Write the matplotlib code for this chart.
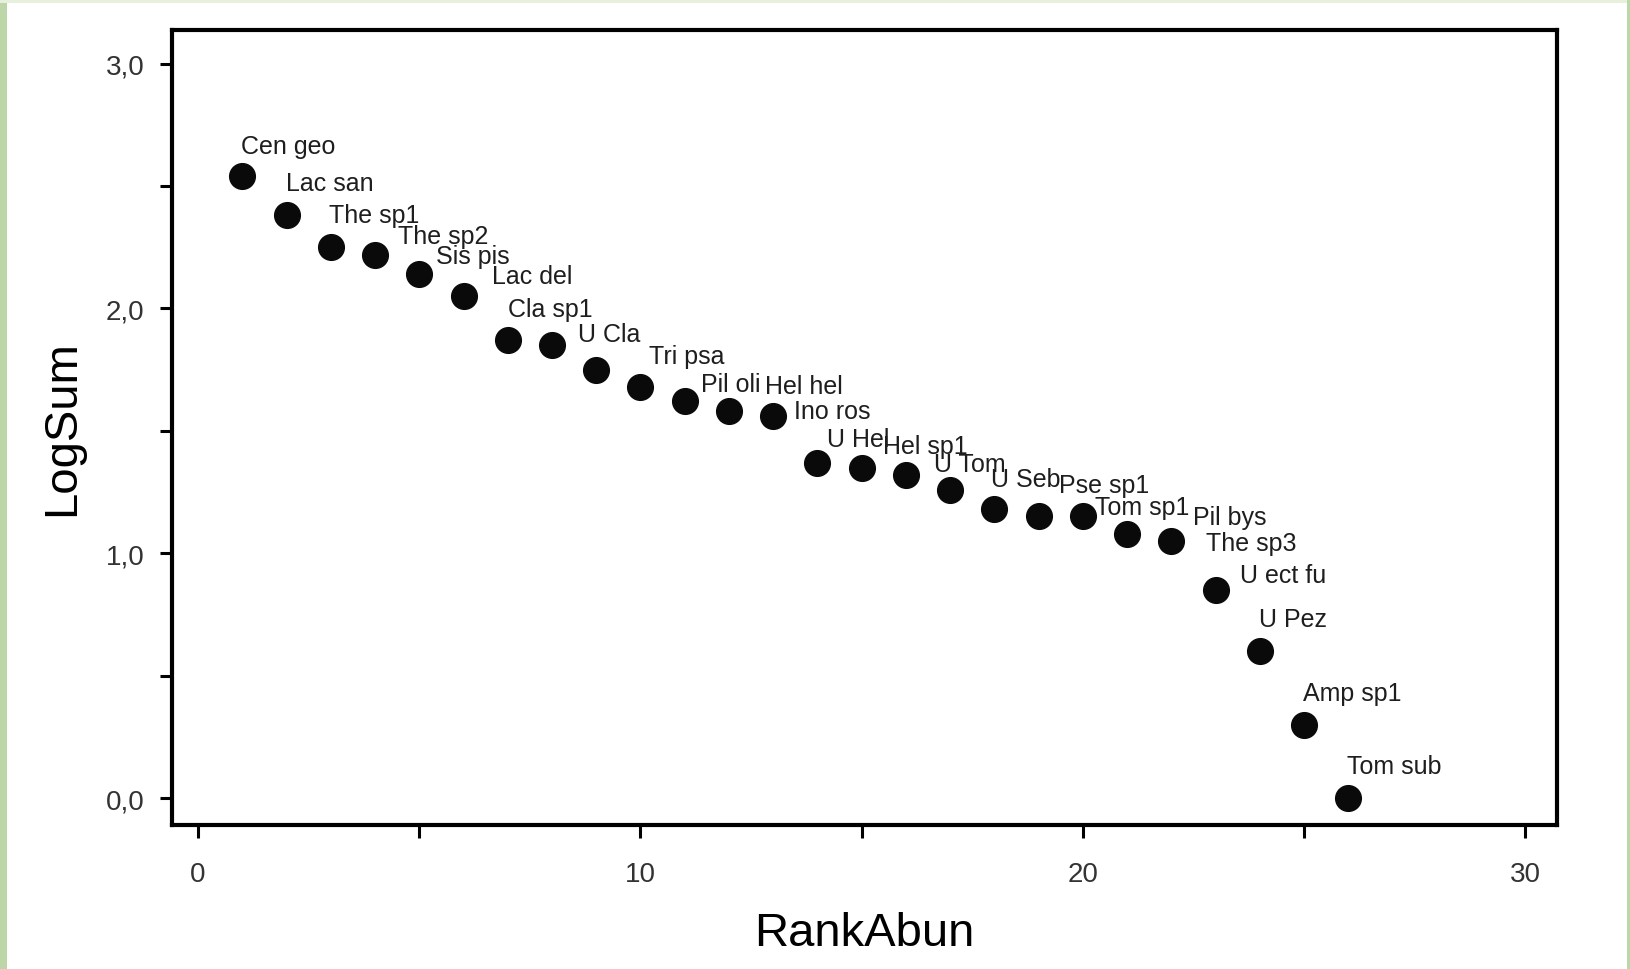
import matplotlib.pyplot as plt
from matplotlib.patches import Rectangle
from matplotlib.ticker import MultipleLocator

# rank abundance data
rank = list(range(1, 27))
log_sum = [2.54, 2.38, 2.25, 2.22, 2.14, 2.05, 1.87, 1.85, 1.75, 1.68, 1.62, 1.58, 1.56,
           1.37, 1.35, 1.32, 1.26, 1.18, 1.15, 1.15, 1.08, 1.05, 0.85, 0.60, 0.30, 0.0]

species = ["Cen geo", "Lac san", "The sp1", "The sp2", "Sis pis", "Lac del", "Cla sp1",
           "U Cla", "Tri psa", "Pil oli", "Hel hel", "Ino ros", "U Hel", "Hel sp1",
           "U Tom", "U Seb", "Pse sp1", "Tom sp1", "Pil bys", "The sp3", "U ect fu",
           "U Pez", "Amp sp1", "Tom sub"]
species_rank = [1, 2, 3, 4, 5, 6, 7, 8, 10, 11, 12, 13, 14, 15, 16, 18, 19, 20, 21, 22,
                23, 24, 25, 26]

xtick_vals = [0, 10, 20, 30]
xtick_labels = ["0", "10", "20", "30"]
ytick_vals = [0, 1, 2, 3]
ytick_labels = ["0,0", "1,0", "2,0", "3,0"]

# label offsets from their point, in pixels (dx, dy)
label_offsets = [(-1, 30), (-1, 32), (-2, 32), (23, 19), (17, 18), (28, 20), (0, 31),
                 (26, 11), (9, 31), (16, 17), (36, 25), (21, 5), (10, 24), (21, 22),
                 (28, 11), (-3, 30), (20, 31), (12, 9), (66, 17), (35, -2), (24, 15),
                 (-1, 32), (-1, 32), (-1, 32)]

fig = plt.figure(figsize=(16.3, 9.7), dpi=100)
fig.patch.set_facecolor("white")
ax = fig.add_axes([172 / 1630, 144 / 970, 1385 / 1630, 795 / 970])

ax.plot(rank, log_sum, "o", color="#0a0a0a", ms=18.5, ls="none")

for name, r, (dx, dy) in zip(species, species_rank, label_offsets):
    ax.annotate(name, (r, log_sum[r - 1]), xytext=(dx, dy), textcoords="offset pixels",
                ha="left", va="center", fontsize=18, color="#1e1e1e",
                family="Liberation Sans")

ax.set_xlim(-0.59, 30.72)
ax.set_ylim(-0.11, 3.137)

ax.set_xticks(xtick_vals, labels=xtick_labels)
ax.set_yticks(ytick_vals, labels=ytick_labels)
ax.xaxis.set_minor_locator(MultipleLocator(5))
ax.yaxis.set_minor_locator(MultipleLocator(0.5))
ax.tick_params(which="both", direction="out", length=9, width=2.2, color="black")
ax.tick_params(axis="y", pad=11, labelsize=20, labelcolor="#333333")
ax.tick_params(axis="x", pad=17, labelsize=20, labelcolor="#333333")
for lab in ax.get_xticklabels() + ax.get_yticklabels():
    lab.set_family("Liberation Sans")

for s in ax.spines.values():
    s.set_linewidth(3)

fig.text(864 / 1630, 1 - 934 / 970, "RankAbun", ha="center", va="center",
         fontsize=34, family="Liberation Sans")
fig.text(62 / 1630, 1 - 428 / 970, "LogSum", ha="center", va="center", rotation=90,
         fontsize=34, family="Liberation Sans")

# pale green frame of the screenshot
fig.add_artist(Rectangle((0, 0), 7 / 1630, 1, transform=fig.transFigure,
                         color="#bcd6a8", lw=0))
fig.add_artist(Rectangle((0, 1 - 4 / 970), 1, 4 / 970, transform=fig.transFigure,
                         color="#e6f0dc", lw=0))
fig.add_artist(Rectangle((1 - 3 / 1630, 0), 3 / 1630, 1, transform=fig.transFigure,
                         color="#bcd8a6", lw=0))

fig.savefig("out.png", dpi=100)
